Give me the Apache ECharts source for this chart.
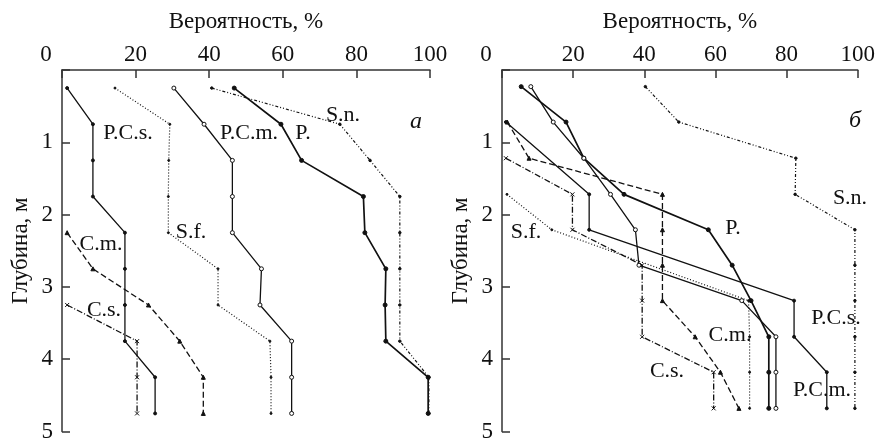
<!DOCTYPE html>
<html><head><meta charset="utf-8">
<script src="https://cdn.jsdelivr.net/npm/echarts@6/dist/echarts.min.js"></script>
<style>html,body{margin:0;padding:0;background:#fff}#c{width:878px;height:443px}</style>
</head><body><div id="c"></div>
<script>
// ---- data (probability %, by depth m) ----
const xTicks = [0, 20, 40, 60, 80, 100];
const yTicks = [0, 1, 2, 3, 4, 5];
const seriesNames = ['P.', 'P.C.m.', 'P.C.s.', 'S.n.', 'S.f.', 'C.m.', 'C.s.'];

// panel a
const depthsA = [0.25, 0.75, 1.25, 1.75, 2.25, 2.75, 3.25, 3.75, 4.25, 4.75];
const a_P   = [46.8, 59.5, 65.1, 81.9, 82.3, 88.0, 87.8, 88.0, 99.5, 99.5];
const a_PCm = [30.4, 38.6, 46.3, 46.3, 46.3, 54.2, 53.8, 62.4, 62.4, 62.4];
const a_PCs = [1.4, 8.4, 8.4, 8.4, 17.1, 17.1, 17.1, 17.1, 25.3, 25.3];
const a_Sn  = [40.7, 75.5, 83.7, 91.8, 91.8, 91.8, 91.8, 91.8, 99.7, 99.7];
const a_Sf  = [14.4, 29.3, 29.0, 28.9, 28.9, 42.4, 42.4, 56.5, 56.8, 56.8];
const a_Cm  = [null, null, null, null, 1.4, 8.4, 23.5, 32.0, 38.4, 38.4];
const a_Cs  = [null, null, null, null, null, null, 1.4, 20.4, 20.4, 20.4];

// panel б
const depthsB = [0.23, 0.72, 1.22, 1.72, 2.21, 2.70, 3.19, 3.69, 4.18, 4.68];
const b_P   = [5.4, 18.0, 23.0, 34.3, 58.0, 64.7, 70.0, 75.0, 75.0, 75.0];
const b_PCm = [8.1, 14.4, 23.0, 30.5, 37.5, 38.5, 67.4, 77.0, 77.0, 77.0];
const b_PCs = [null, 1.1, null, 24.5, 24.5, null, 82.1, 82.1, 91.3, 91.3];
const b_Sn  = [40.3, 49.7, 82.6, 82.4, 99.2, 99.2, 99.2, 99.2, 99.2, 99.2];
const b_Sf  = [null, null, null, 1.4, 14.0, null, 69.3, 69.6, 69.6, 69.6];
const b_Cm  = [null, 1.5, 7.6, 45.1, 45.1, 45.1, 45.1, 54.3, 61.4, 66.6];
const b_Cs  = [null, null, 1.1, 19.8, 19.8, 39.4, 39.4, 39.4, 59.5, 59.5];

const panelA = [a_P, a_PCm, a_PCs, a_Sn, a_Sf, a_Cm, a_Cs];
const panelB = [b_P, b_PCm, b_PCs, b_Sn, b_Sf, b_Cm, b_Cs];

// ---- styles ----
const FONT = '"Liberation Serif", "Times New Roman", serif';
const INK = '#111';
const XSYM = 'path://M0,0L10,10M10,0L0,10';
const styleOf = {
  'P.':     {type: 'solid', width: 1.7, symbol: 'circle', size: 4, empty: false},
  'P.C.m.': {type: 'solid', width: 1.3, symbol: 'circle', size: 4, empty: true},
  'P.C.s.': {type: 'solid', width: 1.3, symbol: 'circle', size: 3, empty: false},
  'S.n.':   {type: [3, 2, 1, 2, 1, 2], width: 1.2, symbol: 'circle', size: 2.5, empty: false},
  'S.f.':   {type: [1, 2], width: 1.2, symbol: 'circle', size: 2, empty: false},
  'C.m.':   {type: [6, 3], width: 1.3, symbol: 'triangle', size: 4, empty: false},
  'C.s.':   {type: [6, 2, 1, 2], width: 1.3, symbol: XSYM, size: 4, empty: true}
};

function buildSeries(vals, depths, idx, name) {
  const st = styleOf[name];
  const data = [];
  vals.forEach((v, i) => { if (v !== null) data.push([v, depths[i]]); });
  return {
    type: 'line', name: name, xAxisIndex: idx, yAxisIndex: idx,
    data: data, symbol: st.symbol, symbolSize: st.size, showSymbol: true,
    lineStyle: {color: INK, width: st.width, type: st.type},
    itemStyle: {color: st.empty ? '#fff' : INK, borderColor: INK, borderWidth: 1},
    emphasis: {disabled: true}, animation: false, silent: true, z: 3
  };
}

function xAxisOf(idx) {
  return {
    gridIndex: idx, type: 'value', position: 'top', min: 0, max: 100, interval: 20,
    name: 'Вероятность, %', nameLocation: 'middle', nameGap: 37,
    nameTextStyle: {fontFamily: FONT, fontSize: 23, color: INK},
    axisLine: {show: true, onZero: false, lineStyle: {color: '#333', width: 1.5}},
    axisTick: {show: true, inside: true, length: 8, lineStyle: {color: '#333', width: 1.5}},
    axisLabel: {
      fontFamily: FONT, fontSize: 23, color: INK, margin: 4,
      customValues: xTicks,
      formatter: v => v === 0 ? '{o|0}' : String(v),
      rich: {o: {fontFamily: FONT, fontSize: 23, color: INK, padding: [0, 32, 0, 0]}}
    },
    splitLine: {show: false}
  };
}
function yAxisOf(idx) {
  return {
    gridIndex: idx, type: 'value', inverse: true, min: 0, max: 5, interval: 1,
    name: 'Глубина, м', nameLocation: 'middle', nameGap: 30, nameRotate: 90,
    nameTextStyle: {fontFamily: FONT, fontSize: 23, color: INK},
    axisLine: {show: true, onZero: false, lineStyle: {color: '#333', width: 1.5}},
    axisTick: {show: true, inside: true, length: 8, lineStyle: {color: '#333', width: 1.5}},
    axisLabel: {
      fontFamily: FONT, fontSize: 23, color: INK, margin: 9,
      formatter: v => v === 0 ? '' : String(v)
    },
    splitLine: {show: false}
  };
}

const labelTexts = [
  ['P.C.s.', 128, 133], ['P.C.m.', 249, 133], ['P.', 303, 133], ['S.n.', 343, 115],
  ['S.f.', 191, 232], ['C.m.', 101, 244], ['C.s.', 104, 310],
  ['S.n.', 850, 198], ['P.', 733, 228], ['S.f.', 526, 232], ['P.C.s.', 836, 318],
  ['C.m.', 730, 335], ['C.s.', 667, 371], ['P.C.m.', 822, 390]
];
const graphics = labelTexts.map(t => ({
  type: 'text', x: t[1], y: t[2], silent: true,
  style: {text: t[0], fontFamily: FONT, fontSize: 22, fill: INK, align: 'center', verticalAlign: 'middle'}
}));
graphics.push({type: 'text', x: 416, y: 122, silent: true,
  style: {text: 'а', fontFamily: FONT, fontSize: 24, fontStyle: 'italic', fill: INK, align: 'center', verticalAlign: 'middle'}});
graphics.push({type: 'text', x: 855, y: 121, silent: true,
  style: {text: 'б', fontFamily: FONT, fontSize: 24, fontStyle: 'italic', fill: INK, align: 'center', verticalAlign: 'middle'}});

const series = [];
panelA.forEach((vals, i) => series.push(buildSeries(vals, depthsA, 0, seriesNames[i])));
panelB.forEach((vals, i) => series.push(buildSeries(vals, depthsB, 1, seriesNames[i])));

const chart = echarts.init(document.getElementById('c'), null, {renderer: 'canvas'});
chart.setOption({
  backgroundColor: '#fff',
  animation: false,
  grid: [
    {left: 62, top: 70, width: 368, height: 366},
    {left: 502, top: 70, width: 368, height: 366}
  ],
  xAxis: [xAxisOf(0), xAxisOf(1)],
  yAxis: [yAxisOf(0), yAxisOf(1)],
  series: series,
  graphic: graphics
});
</script></body></html>
